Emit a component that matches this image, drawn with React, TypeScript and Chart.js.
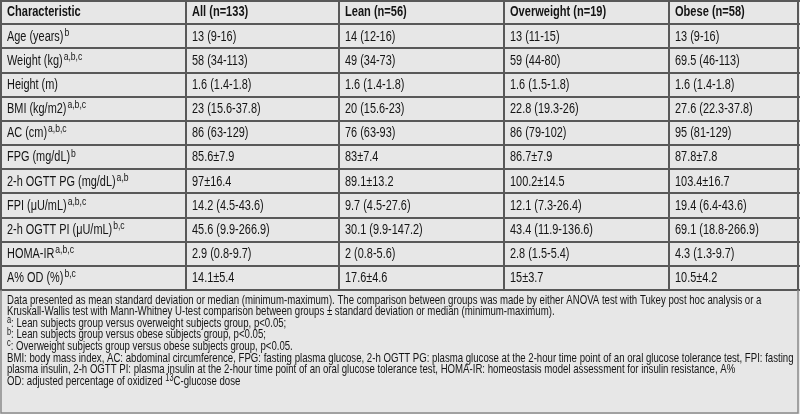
import React, { useEffect, useRef } from "react";
import { Chart, registerables } from "chart.js";

Chart.register(...registerables);

// ---- data ----
const headers = ["Characteristic", "All (n=133)", "Lean (n=56)", "Overweight (n=19)", "Obese (n=58)"];
const characteristics = [
  "Age (years)",
  "Weight (kg)",
  "Height (m)",
  "BMI (kg/m2)",
  "AC (cm)",
  "FPG (mg/dL)",
  "2-h OGTT PG (mg/dL)",
  "FPI (μU/mL)",
  "2-h OGTT PI (μU/mL)",
  "HOMA-IR",
  "A% OD (%)",
];
const significance = ["b", "a,b,c", "", "a,b,c", "a,b,c", "b", "a,b", "a,b,c", "b,c", "a,b,c", "b,c"];
const allValues = ["13 (9-16)", "58 (34-113)", "1.6 (1.4-1.8)", "23 (15.6-37.8)", "86 (63-129)", "85.6±7.9", "97±16.4", "14.2 (4.5-43.6)", "45.6 (9.9-266.9)", "2.9 (0.8-9.7)", "14.1±5.4"];
const leanValues = ["14 (12-16)", "49 (34-73)", "1.6 (1.4-1.8)", "20 (15.6-23)", "76 (63-93)", "83±7.4", "89.1±13.2", "9.7 (4.5-27.6)", "30.1 (9.9-147.2)", "2 (0.8-5.6)", "17.6±4.6"];
const overweightValues = ["13 (11-15)", "59 (44-80)", "1.6 (1.5-1.8)", "22.8 (19.3-26)", "86 (79-102)", "86.7±7.9", "100.2±14.5", "12.1 (7.3-26.4)", "43.4 (11.9-136.6)", "2.8 (1.5-5.4)", "15±3.7"];
const obeseValues = ["13 (9-16)", "69.5 (46-113)", "1.6 (1.4-1.8)", "27.6 (22.3-37.8)", "95 (81-129)", "87.8±7.8", "103.4±16.7", "19.4 (6.4-43.6)", "69.1 (18.8-266.9)", "4.3 (1.3-9.7)", "10.5±4.2"];

// footnote lines: [text, isSuperscript][]
const footnotes: [string, boolean][][] = [
  [["Data presented as mean standard deviation or median (minimum-maximum). The comparison between groups was made by either ANOVA test with Tukey post hoc analysis or a", false]],
  [["Kruskall-Wallis test with Mann-Whitney U-test comparison between groups ± standard deviation or median (minimum-maximum).", false]],
  [["a", true], [": Lean subjects group versus overweight subjects group, p<0.05;", false]],
  [["b", true], [": Lean subjects group versus obese subjects group, p<0.05;", false]],
  [["c", true], [": Overweight subjects group versus obese subjects group, p<0.05.", false]],
  [["BMI: body mass index, AC: abdominal circumference, FPG: fasting plasma glucose, 2-h OGTT PG: plasma glucose at the 2-hour time point of an oral glucose tolerance test, FPI: fasting", false]],
  [["plasma insulin, 2-h OGTT PI: plasma insulin at the 2-hour time point of an oral glucose tolerance test, HOMA-IR: homeostasis model assessment for insulin resistance, A%", false]],
  [["OD: adjusted percentage of oxidized ", false], ["13", true], ["C-glucose dose", false]],
];

// ---- layout / style ----
const columnEdges = [1, 186, 339, 504, 669, 798];
const FONT = '"Liberation Sans", Arial, sans-serif';
const BG = "#e7e7e7";
const GRID = "#585858";
const TEXT = "#141414";
const HEADER_SX = 0.79;
const BODY_SX = 0.78;
const NOTE_SX = 0.74;

function drawScaled(ctx: CanvasRenderingContext2D, text: string, x: number, y: number, sx: number) {
  ctx.save();
  ctx.translate(x, y);
  ctx.scale(sx, 1);
  ctx.fillText(text, 0, 0);
  ctx.restore();
  return ctx.measureText(text).width * sx;
}

const tablePlugin = {
  id: "tablePlugin",
  beforeDraw(chart: any) {
    const ctx = chart.ctx;
    ctx.save();
    ctx.fillStyle = BG;
    ctx.fillRect(0, 0, chart.width, chart.height);
    ctx.restore();
  },
  afterDraw(chart: any) {
    const ctx = chart.ctx as CanvasRenderingContext2D;
    const xs = chart.scales.x;
    const ys = chart.scales.y;
    const area = chart.chartArea;
    const nRows = ys.getLabels().length;
    const band = (area.bottom - area.top) / nRows;
    const cols = [characteristics, allValues, leanValues, overweightValues, obeseValues];
    const edges = columnEdges.map((e) => Math.round(xs.getPixelForValue(e)));

    ctx.save();
    ctx.textBaseline = "middle";
    ctx.fillStyle = TEXT;
    for (let r = 0; r < nRows; r++) {
      const cy = ys.getPixelForValue(r) + 0.5;
      for (let c = 0; c < 5; c++) {
        const x = edges[c] + 6;
        if (r === 0) {
          ctx.font = `bold 14px ${FONT}`;
          drawScaled(ctx, headers[c], x, cy, HEADER_SX);
        } else {
          ctx.font = `14px ${FONT}`;
          const t = cols[c][r - 1];
          const w = drawScaled(ctx, t, x, cy, BODY_SX);
          if (c === 0 && significance[r - 1]) {
            ctx.font = `11px ${FONT}`;
            drawScaled(ctx, significance[r - 1], x + w + 1, cy - 4, BODY_SX);
          }
        }
      }
    }

    // grid lines
    ctx.strokeStyle = GRID;
    ctx.lineWidth = 2;
    ctx.beginPath();
    for (let r = 0; r <= nRows; r++) {
      const y = Math.round(area.top + r * band) + (r === 0 ? 1 : 0);
      ctx.moveTo(0, y);
      ctx.lineTo(chart.width, y);
    }
    for (const x of edges) {
      ctx.moveTo(x, area.top);
      ctx.lineTo(x, area.bottom);
    }
    ctx.stroke();

    // footnote box
    ctx.strokeStyle = "#8a8a8a";
    ctx.lineWidth = 1.5;
    ctx.beginPath();
    ctx.moveTo(edges[0], area.bottom);
    ctx.lineTo(edges[0], chart.height - 1);
    ctx.lineTo(edges[5], chart.height - 1);
    ctx.lineTo(edges[5], area.bottom);
    ctx.stroke();

    // footnotes
    ctx.fillStyle = TEXT;
    const fy0 = area.bottom + 10;
    const lh = 11.6;
    footnotes.forEach((segs, i) => {
      let x = edges[0] + 6;
      const y = fy0 + i * lh;
      for (const [t, sup] of segs) {
        ctx.font = sup ? `10px ${FONT}` : `13px ${FONT}`;
        x += drawScaled(ctx, t, x, sup ? y - 3 : y, NOTE_SX);
      }
    });
    ctx.restore();
  },
};

export default function App() {
  const ref = useRef<HTMLCanvasElement>(null);
  useEffect(() => {
    document.body.style.margin = "0";
    if (!ref.current) return;
    const chart = new Chart(ref.current, {
      type: "bar",
      data: {
        labels: ["header", ...characteristics],
        datasets: [{ data: [], backgroundColor: "transparent" }],
      },
      options: {
        indexAxis: "y",
        responsive: false,
        animation: false,
        events: [],
        layout: { padding: { top: 0, left: 0, right: 0, bottom: 124 } },
        scales: {
          x: { type: "linear", min: 0, max: 800, display: false },
          y: { type: "category", display: false, offset: true },
        },
        plugins: { legend: { display: false }, tooltip: { enabled: false } },
      },
      plugins: [tablePlugin],
    } as any);
    return () => chart.destroy();
  }, []);
  return (
    <div style={{ width: 800, height: 414 }}>
      <canvas ref={ref} width={800} height={414} style={{ display: "block" }} />
    </div>
  );
}
